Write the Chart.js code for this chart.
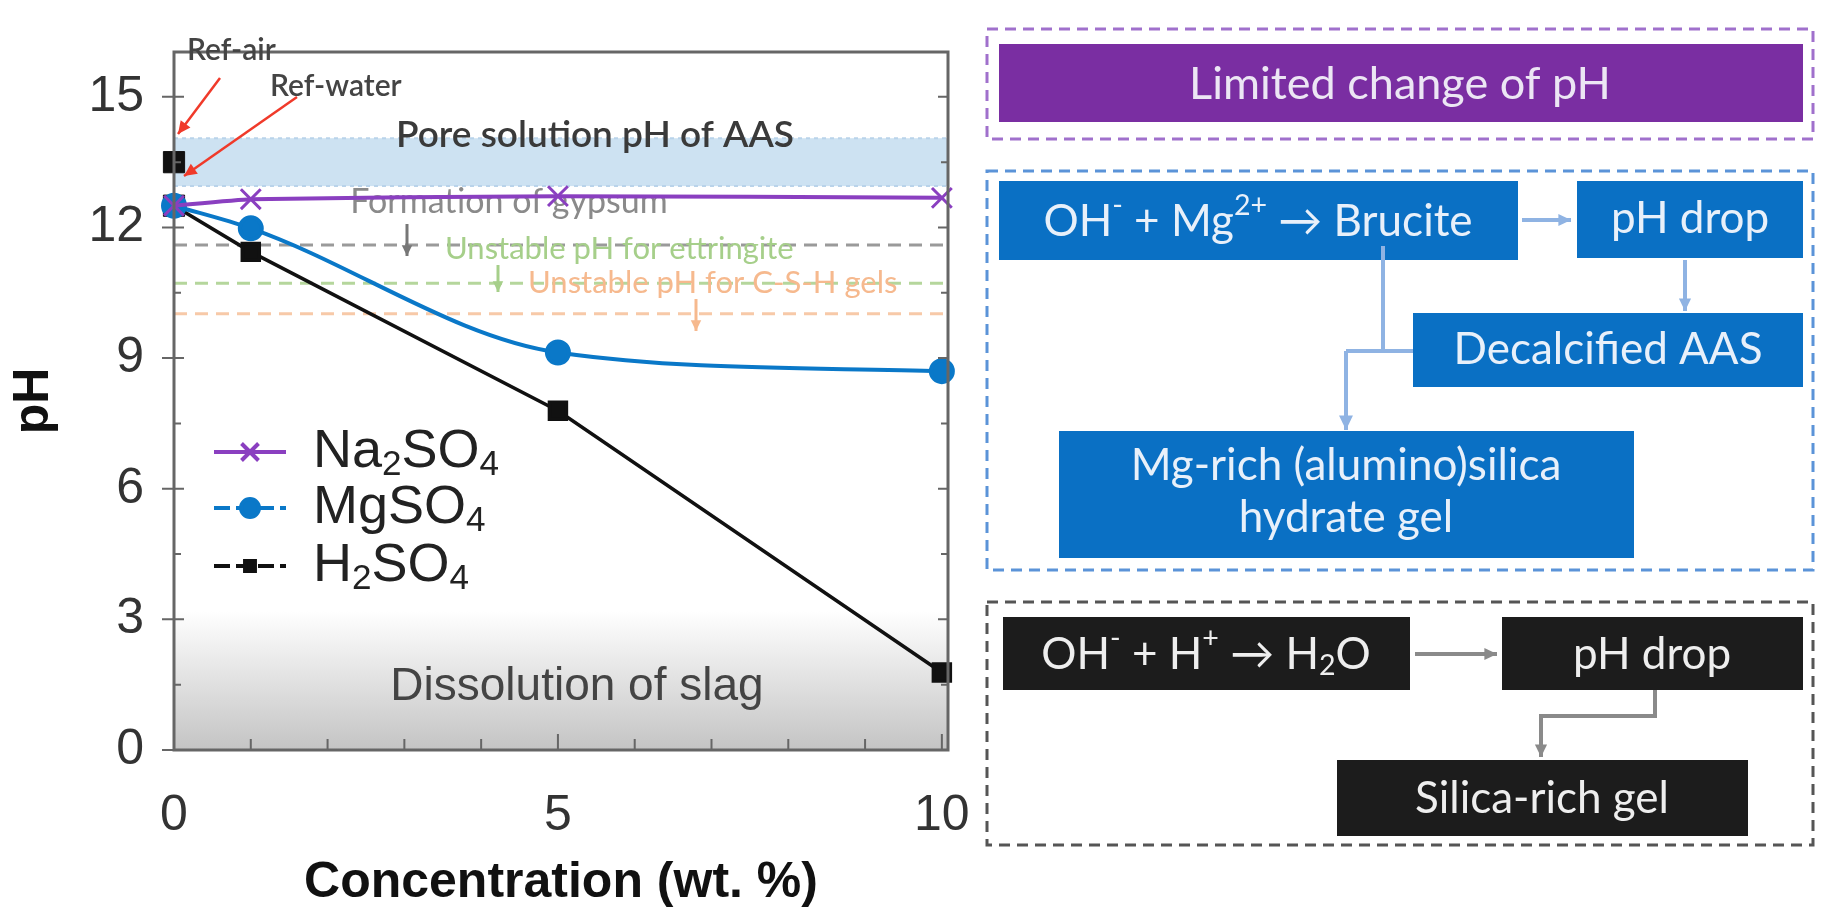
<!DOCTYPE html><html><head><meta charset="utf-8">
<script src="https://cdn.jsdelivr.net/npm/chart.js@4"></script>
<style>html,body{margin:0;background:#fff;overflow:hidden}</style></head><body>
<canvas id="c" width="1834" height="917"></canvas>
<script>
const concentration=[0,1,5,10];
const na2so4=[12.5,12.65,12.72,12.68];
const mgso4=[12.5,11.98,9.13,8.7];
const h2so4=[12.5,11.44,7.79,1.78];
const refX=[0,0];
const refPH=[13.5,12.5];
const xTickValues=[0,1,2,3,4,5,6,7,8,9,10];
const yTickValues=[0,1.5,3,4.5,6,7.5,9,10.5,12,13.5,15];
const xLabelValues=[0,5,10];
const yLabelValues=[0,3,6,9,12,15];
const poreBand=[12.95,14.05];
const slagBand=[0,3.2];
const gypsumPH=11.6, ettringitePH=10.72, cshPH=10.02;

function pts(xs,ys){return xs.map((x,i)=>({x:x,y:ys[i]}));}

function arrow(ctx,p,color,w,h){
  ctx.save();ctx.strokeStyle=color;ctx.fillStyle=color;ctx.lineWidth=w;ctx.setLineDash([]);
  ctx.beginPath();ctx.moveTo(p[0][0],p[0][1]);
  for(let i=1;i<p.length;i++)ctx.lineTo(p[i][0],p[i][1]);
  ctx.stroke();
  const a=p[p.length-2],b=p[p.length-1];
  const ang=Math.atan2(b[1]-a[1],b[0]-a[0]);
  ctx.beginPath();ctx.moveTo(b[0],b[1]);
  ctx.lineTo(b[0]-h*Math.cos(ang-0.45),b[1]-h*Math.sin(ang-0.45));
  ctx.lineTo(b[0]-h*Math.cos(ang+0.45),b[1]-h*Math.sin(ang+0.45));
  ctx.closePath();ctx.fill();ctx.restore();
}
function rich(ctx,parts,x,y,size,align){
  let total=0;const ws=[];
  parts.forEach(p=>{const s=p[1]?size*0.65:size;ctx.font=ctx._fam(s);const w=ctx.measureText(p[0]).width;ws.push(w);total+=w;});
  let cx=align==='center'?x-total/2:x;
  ctx.textAlign='left';
  parts.forEach((p,i)=>{const s=p[1]?size*0.65:size;ctx.font=ctx._fam(s);
    const dy=p[1]===1?size*0.25:(p[1]===2?-size*0.38:0);
    ctx.fillText(p[0],cx,y+dy);cx+=ws[i];});
}
function dashRect(ctx,x1,y1,x2,y2,color){
  ctx.save();ctx.strokeStyle=color;ctx.lineWidth=3;ctx.setLineDash([11,7]);
  ctx.strokeRect(x1,y1,x2-x1,y2-y1);ctx.restore();
}
function box(ctx,x1,y1,x2,y2,color){ctx.fillStyle=color;ctx.fillRect(x1,y1,x2-x1,y2-y1);}

const deco={
  id:'deco',
  beforeDatasetsDraw(chart){
    const ctx=chart.ctx,a=chart.chartArea,xs=chart.scales.x,ys=chart.scales.y;
    ctx.save();
    const t=ys.getPixelForValue(slagBand[1]),b=ys.getPixelForValue(slagBand[0]);
    const g=ctx.createLinearGradient(0,t,0,b);g.addColorStop(0,'#ffffff');g.addColorStop(1,'#c4c4c4');
    ctx.fillStyle=g;ctx.fillRect(a.left,t,a.right-a.left,b-t);
    const pt=ys.getPixelForValue(poreBand[1]),pb=ys.getPixelForValue(poreBand[0]);
    ctx.fillStyle='#cde2f2';ctx.fillRect(a.left,pt,a.right-a.left,pb-pt);
    ctx.strokeStyle='#b9d3ea';ctx.lineWidth=2;ctx.setLineDash([4,4]);
    ctx.beginPath();ctx.moveTo(a.left,pt);ctx.lineTo(a.right,pt);ctx.moveTo(a.left,pb);ctx.lineTo(a.right,pb);ctx.stroke();
    const lines=[[gypsumPH,'#9a9a9a'],[ettringitePH,'#b5d69c'],[cshPH,'#f7c9a8']];
    ctx.lineWidth=3;ctx.setLineDash([13,8]);
    lines.forEach(l=>{const y=ys.getPixelForValue(l[0]);ctx.strokeStyle=l[1];ctx.beginPath();ctx.moveTo(a.left,y);ctx.lineTo(a.right,y);ctx.stroke();});
    ctx.setLineDash([]);
    ctx.textBaseline='middle';ctx.textAlign='center';
    ctx.fillStyle='#3a3a3a';ctx.font='600 37px Lato';
    ctx.fillText('Pore solution pH of AAS',595,135);
    ctx.fillStyle='#8a8a8a';ctx.font='34px Lato';
    ctx.fillText('Formation of gypsum',509,202);
    ctx.textAlign='left';
    ctx.fillStyle='#a6cf8a';ctx.font='31px Lato';
    ctx.fillText('Unstable pH for ettringite',445,249);
    ctx.fillStyle='#f6b98e';
    ctx.fillText('Unstable pH for C-S-H gels',528,283);
    ctx.textAlign='center';ctx.fillStyle='#444';ctx.font='46px "Liberation Sans Narrow", "Liberation Sans"';
    ctx.fillText('Dissolution of slag',577,687);
    arrow(ctx,[[407,224],[407,256]],'#777',3,12);
    arrow(ctx,[[498,265],[498,292]],'#a6cf8a',3,12);
    arrow(ctx,[[696,299],[696,331]],'#f6b98e',3,12);
    ctx.restore();
  },
  afterDatasetsDraw(chart){
    const ctx=chart.ctx,a=chart.chartArea,xs=chart.scales.x,ys=chart.scales.y;
    ctx.save();
    ctx.strokeStyle='#666';ctx.lineWidth=3;ctx.setLineDash([]);
    ctx.strokeRect(a.left,a.top,a.right-a.left,a.bottom-a.top);
    ctx.lineWidth=2;ctx.beginPath();
    yTickValues.forEach(v=>{const y=ys.getPixelForValue(v);const maj=yLabelValues.includes(v);
      ctx.moveTo(a.left-(maj?12:0),y);ctx.lineTo(a.left+(maj?10:7),y);
      ctx.moveTo(a.right-(maj?10:7),y);ctx.lineTo(a.right,y);});
    xTickValues.forEach(v=>{const x=xs.getPixelForValue(v);const maj=xLabelValues.includes(v);
      ctx.moveTo(x,a.bottom);ctx.lineTo(x,a.bottom-(maj?16:11));});
    ctx.stroke();
    ctx.fillStyle='#444';ctx.font='600 30px Lato';ctx.textAlign='left';ctx.textBaseline='middle';
    ctx.fillText('Ref-air',187,50);ctx.fillText('Ref-water',270,86);
    arrow(ctx,[[220,78],[178,134]],'#f03a2a',2.5,14);
    arrow(ctx,[[297,97],[184,176]],'#f03a2a',2.5,14);
    const leg=[['#8a3fc0','crossRot',[['Na',0],['2',1],['SO',0],['4',1]]],
               ['#0a78c8','circle',[['MgSO',0],['4',1]]],
               ['#111','rect',[['H',0],['2',1],['SO',0],['4',1]]]];
    const ly=[452,508,566];
    ctx._fam=s=>s+'px "Liberation Sans", Arial';
    leg.forEach((l,i)=>{const y=ly[i];
      ctx.strokeStyle=l[0];ctx.lineWidth=4;
      if(i>0)ctx.setLineDash([16,6]);else ctx.setLineDash([]);
      ctx.beginPath();ctx.moveTo(214,y);ctx.lineTo(286,y);ctx.stroke();ctx.setLineDash([]);
      ctx.fillStyle=l[0];ctx.strokeStyle=l[0];
      Chart.helpers.drawPoint(ctx,{pointStyle:l[1],radius:i==2?7:(i==0?12:9),borderWidth:i==0?3:1},250,y);
      ctx.fillStyle='#222';ctx.textBaseline='middle';
      rich(ctx,l[2],313,y,54,'left');
    });
    dashRect(ctx,987,29,1813,139,'#a070cc');
    box(ctx,999,44,1803,122,'#7a2ea2');
    dashRect(ctx,987,171,1813,570,'#5b93d8');
    box(ctx,999,181,1518,260,'#0a70c4');
    box(ctx,1577,181,1803,258,'#0a70c4');
    box(ctx,1413,313,1803,387,'#0a70c4');
    box(ctx,1059,431,1634,558,'#0a70c4');
    dashRect(ctx,987,602,1813,845,'#555');
    box(ctx,1003,617,1410,690,'#1c1c1c');
    box(ctx,1502,617,1803,690,'#1c1c1c');
    box(ctx,1337,760,1748,836,'#1c1c1c');
    arrow(ctx,[[1522,220],[1571,220]],'#8fb3e3',4,14);
    arrow(ctx,[[1685,260],[1685,311]],'#8fb3e3',4,14);
    ctx.strokeStyle='#8fb3e3';ctx.lineWidth=4;ctx.beginPath();ctx.moveTo(1383,246);ctx.lineTo(1383,351);ctx.moveTo(1413,351);ctx.lineTo(1346,351);ctx.stroke();
    arrow(ctx,[[1346,351],[1346,430]],'#8fb3e3',4,16);
    arrow(ctx,[[1415,654],[1497,654]],'#8a8a8a',4,14);
    arrow(ctx,[[1655,690],[1655,716],[1541,716],[1541,757]],'#8a8a8a',4,14);
    ctx._fam=s=>s+'px Lato';
    ctx.fillStyle='#ece6f4';ctx.textBaseline='middle';
    rich(ctx,[['Limited change of pH',0]],1400,84,45,'center');
    ctx.fillStyle='#e8f0fa';
    rich(ctx,[['OH',0],['-',2],[' + Mg',0],['2+',2],[' \u2192 Brucite',0]],1258,222,44,'center');
    rich(ctx,[['pH drop',0]],1690,219,44,'center');
    rich(ctx,[['Decalcified AAS',0]],1608,350,44,'center');
    rich(ctx,[['Mg-rich (alumino)silica',0]],1346,466,44,'center');
    rich(ctx,[['hydrate gel',0]],1346,518,44,'center');
    ctx.fillStyle='#eeeeee';
    rich(ctx,[['OH',0],['-',2],[' + H',0],['+',2],[' \u2192 H',0],['2',1],['O',0]],1206,655,44,'center');
    rich(ctx,[['pH drop',0]],1652,655,44,'center');
    rich(ctx,[['Silica-rich gel',0]],1542,799,44,'center');
    ctx.restore();
  }
};

new Chart(document.getElementById('c'),{
  type:'line',
  data:{datasets:[
    {label:'Na2SO4',data:pts(concentration,na2so4),borderColor:'#8a3fc0',backgroundColor:'#8a3fc0',borderWidth:4,pointStyle:'crossRot',pointRadius:14,pointBorderWidth:3,tension:0.15},
    {label:'MgSO4',data:pts(concentration,mgso4),borderColor:'#0a78c8',backgroundColor:'#0a78c8',borderWidth:4,pointStyle:'circle',pointRadius:11,tension:0.25,cubicInterpolationMode:'monotone'},
    {label:'H2SO4',data:pts(concentration,h2so4),borderColor:'#111',backgroundColor:'#111',borderWidth:3.5,pointStyle:'rect',pointRadius:12,tension:0},
    {label:'Ref',data:pts(refX,refPH),showLine:false,borderColor:'#111',backgroundColor:'#111',pointStyle:'rect',pointRadius:15}
  ]},
  options:{
    responsive:false,devicePixelRatio:1,animation:false,
    layout:{padding:{left:0,top:21,right:886,bottom:0}},
    plugins:{legend:{display:false},tooltip:{enabled:false}},
    clip:false,
    scales:{
      x:{type:'linear',min:0,max:10.08,
        afterBuildTicks:s=>{s.ticks=xTickValues.map(v=>({value:v}));},
        afterFit:s=>{s.height=167;},
        grid:{display:false},border:{display:false},
        ticks:{autoSkip:false,maxRotation:0,padding:28,color:'#333',font:{size:50,family:'"Liberation Sans", Arial'},callback:v=>xLabelValues.includes(v)?String(v):''},
        title:{display:true,text:'Concentration (wt. %)',color:'#111',font:{size:50,weight:'bold',family:'"Liberation Sans", Arial'},padding:{top:4}}},
      y:{type:'linear',min:0,max:16.03,
        afterBuildTicks:s=>{s.ticks=yTickValues.map(v=>({value:v}));},
        afterFit:s=>{s.width=174;},
        grid:{display:false},border:{display:false},
        ticks:{autoSkip:false,padding:22,color:'#333',font:{size:50,family:'"Liberation Sans", Arial'},callback:v=>yLabelValues.includes(v)?String(v):''},
        title:{display:true,text:'pH',color:'#111',font:{size:50,weight:'bold',family:'"Liberation Sans", Arial'},padding:{bottom:6}}}
    }
  },
  plugins:[deco]
});
</script></body></html>
